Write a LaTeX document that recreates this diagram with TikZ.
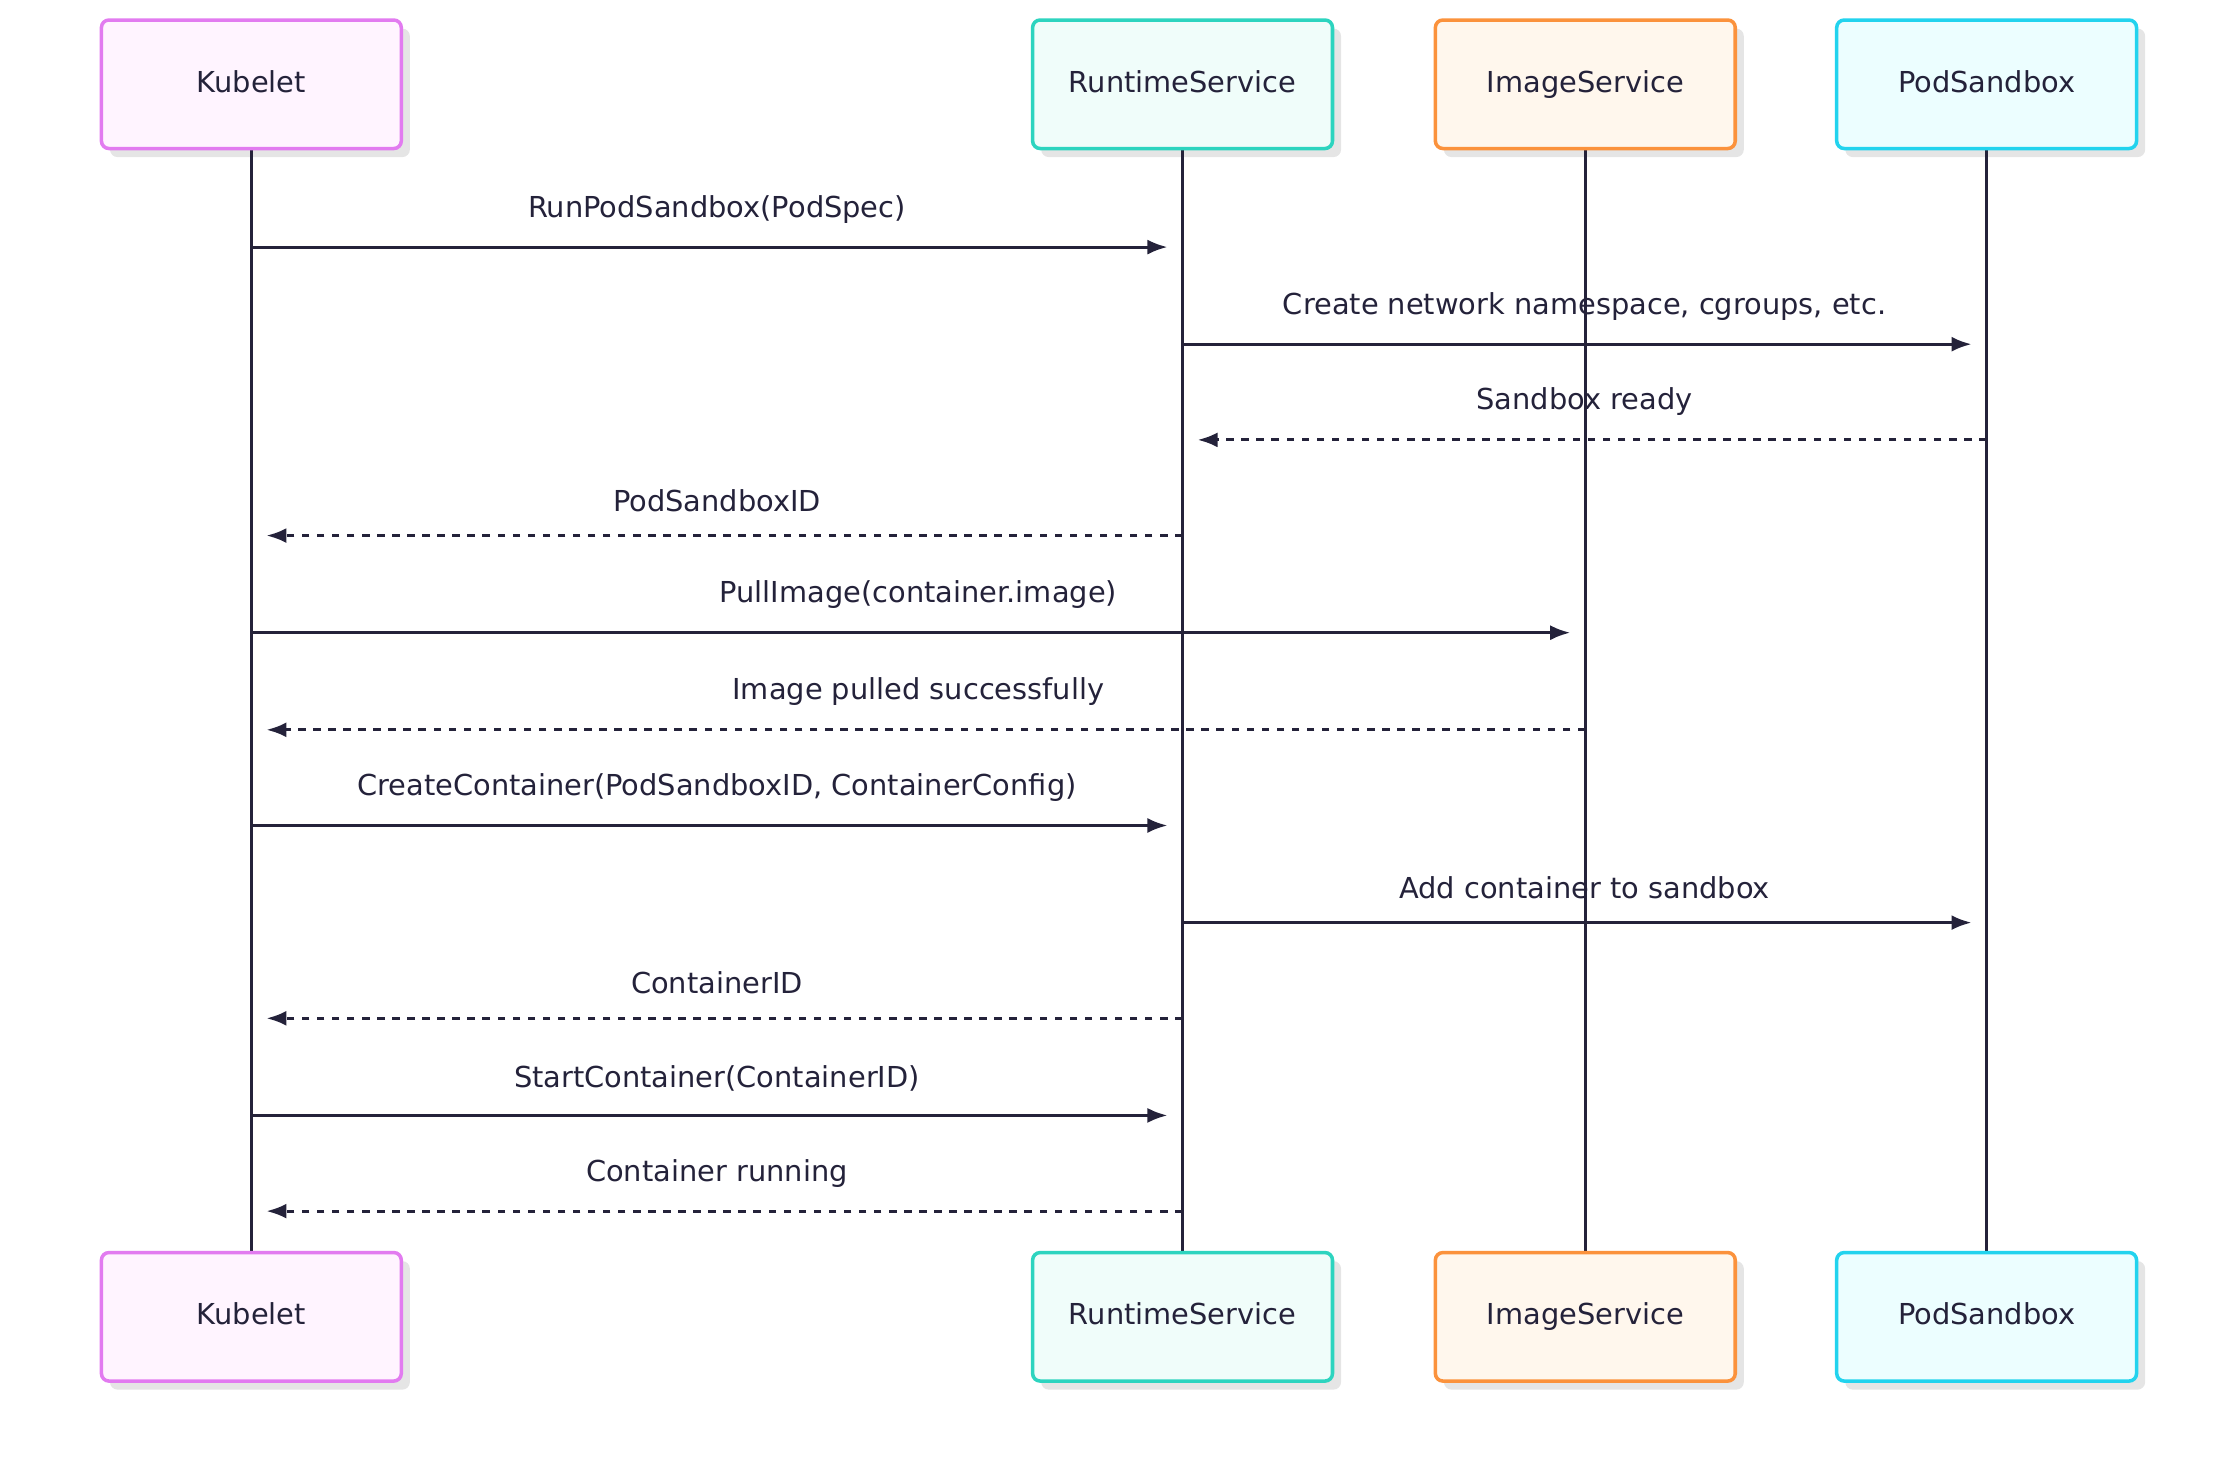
\documentclass[tikz,border=0pt]{standalone}
\usepackage{fontspec}
\setmainfont{DejaVu Sans}
\usetikzlibrary{arrows.meta,calc}
\definecolor{ln}{HTML}{24223A}
\definecolor{bK}{HTML}{E27BF0}\definecolor{fK}{HTML}{FFF4FF}
\definecolor{bR}{HTML}{2DD4BF}\definecolor{fR}{HTML}{F0FDFA}
\definecolor{bI}{HTML}{FB923C}\definecolor{fI}{HTML}{FFF7ED}
\definecolor{bP}{HTML}{22D3EE}\definecolor{fP}{HTML}{ECFEFF}
\begin{document}
\begin{tikzpicture}[x=0.02cm,y=-0.02cm,
  actor/.style={draw=#1,line width=1.4pt,rounded corners=3pt,minimum width=4.2cm,minimum height=1.8cm,inner sep=0pt,text height=9pt,text depth=2.5pt,font=\fontsize{11.5}{13}\selectfont,text=ln},
  shadow/.style={fill=black!10,rounded corners=3pt,minimum width=4.2cm,minimum height=1.8cm},
  life/.style={draw=ln,line width=1.2pt},
  msg/.style={draw=ln,line width=1.2pt,-{Latex[length=8pt,width=6pt]},shorten >=6pt},
  ret/.style={msg,dash pattern=on 3pt off 3pt},
  lbl/.style={font=\fontsize{11.5}{13}\selectfont,text=ln,above=6pt}]
\useasboundingbox (0,0) rectangle (1560,1021);
\foreach \x in {176,828,1110,1391}{
  \node[shadow] at (\x+6,65) {};
  \node[shadow] at (\x+6,928) {};
}
\draw[life] (176,105) -- (176,877);
\draw[life] (828,105) -- (828,877);
\draw[life] (1110,105) -- (1110,877);
\draw[life] (1391,105) -- (1391,877);
\node[actor=bK,fill=fK] (kt) at (176,59) {Kubelet};
\node[actor=bR,fill=fR] (rt) at (828,59) {RuntimeService};
\node[actor=bI,fill=fI] (it) at (1110,59) {ImageService};
\node[actor=bP,fill=fP] (pt) at (1391,59) {PodSandbox};
\node[actor=bK,fill=fK] (kb) at (176,922) {Kubelet};
\node[actor=bR,fill=fR] (rb) at (828,922) {RuntimeService};
\node[actor=bI,fill=fI] (ib) at (1110,922) {ImageService};
\node[actor=bP,fill=fP] (pb) at (1391,922) {PodSandbox};
\foreach \i/\a/\b/\y/\s/\t in {
 1/176/828/173/msg/{RunPodSandbox(PodSpec)},
 2/828/1391/241/msg/{Create network namespace, cgroups, etc.},
 3/1391/828/308/ret/{Sandbox ready},
 4/828/176/375/ret/{PodSandboxID},
 5/176/1110/443/msg/{PullImage(container.image)},
 6/1110/176/511/ret/{Image pulled successfully},
 7/176/828/578/msg/{CreateContainer(PodSandboxID, ContainerConfig)},
 8/828/1391/646/msg/{Add container to sandbox},
 9/828/176/713/ret/{ContainerID},
 10/176/828/781/msg/{StartContainer(ContainerID)},
 11/828/176/848/ret/{Container running}}{
  \coordinate (s\i) at (\a,\y); \coordinate (e\i) at (\b,\y);
  \draw[\s] (s\i) -- (e\i);
  \node[lbl] at ($(s\i)!0.5!(e\i)$) {\t};
}
\end{tikzpicture}
\end{document}
